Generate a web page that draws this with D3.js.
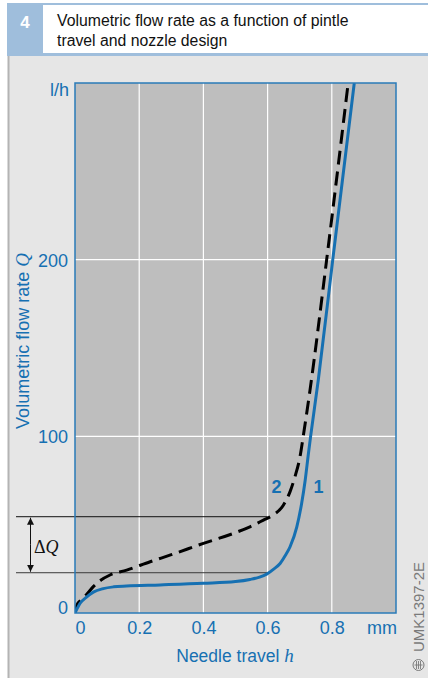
<!DOCTYPE html>
<html>
<head>
<meta charset="utf-8">
<script src="https://cdn.jsdelivr.net/npm/d3@7"></script>
<style>
  html, body { margin: 0; padding: 0; background: #ffffff; }
  svg { display: block; font-family: "Liberation Sans", Arial, Helvetica, sans-serif; }
</style>
</head>
<body>
<svg id="chart" width="428" height="678"></svg>
<script>
// Needle travel h (mm) and volumetric flow rate Q (l/h) for both nozzle designs
const travel1 = [0, 0.016, 0.036, 0.057, 0.088, 0.12, 0.16, 0.265, 0.4, 0.5, 0.545, 0.575, 0.597, 0.62, 0.639, 0.655, 0.67, 0.691, 0.706, 0.717, 0.727, 0.734, 0.758, 0.803, 0.87];
const flow1   = [0, 5.5, 9, 11.8, 13.8, 14.8, 15.3, 15.9, 16.8, 17.8, 19, 20.3, 22, 25, 28, 32.5, 37.5, 48.8, 62, 75, 90, 100, 132, 200, 300];

const travel2 = [0, 0.006, 0.02, 0.036, 0.057, 0.08, 0.109, 0.161, 0.234, 0.3, 0.4, 0.5, 0.545, 0.587, 0.618, 0.649, 0.67, 0.685, 0.701, 0.711, 0.732, 0.784, 0.851];
const flow2   = [0, 4.5, 7.5, 10.5, 14.9, 18.5, 21.5, 24.3, 29, 33, 39.4, 45.5, 48.8, 52.6, 55.5, 61, 68.7, 77, 88.5, 100, 126, 200, 300];

const xTicks = [0, 0.2, 0.4, 0.6, 0.8];
const xTickLabels = ["0", "0.2", "0.4", "0.6", "0.8"];
const yTicks = [0, 100, 200];
const yTickLabels = ["0", "100", "200"];

// Flow-rate band ΔQ marked at h = 0.6 mm
const deltaQ = [22.8, 54.5];
const deltaQTravel = 0.6;

const BLUE = "#1670b2";
const SANS = "'Liberation Sans', Arial, Helvetica, sans-serif";
const SERIF = "'Liberation Serif', 'Times New Roman', serif";
const svg = d3.select("#chart");
const W = 428, H = 678;

// ---- panel frame ----
svg.append("rect").attr("x", 8).attr("y", 56).attr("width", W - 8).attr("height", H - 56).attr("fill", "#e6e6e6");
svg.append("line").attr("x1", 8.5).attr("x2", 8.5).attr("y1", 56).attr("y2", H)
  .attr("stroke", "#b4b4b4").attr("stroke-width", 2);

// header band
svg.append("rect").attr("x", 7).attr("y", 3).attr("width", W - 7).attr("height", 53).attr("fill", "#9fbedc");
svg.append("rect").attr("x", 43).attr("y", 5).attr("width", W - 43).attr("height", 48).attr("fill", "#ffffff");
svg.append("text").attr("x", 25).attr("y", 28).attr("text-anchor", "middle")
  .attr("font-size", 17).attr("font-weight", "bold").attr("fill", "#ffffff").text("4");
svg.append("text").attr("x", 57).attr("y", 26).attr("font-size", 15.8).attr("fill", "#111")
  .text("Volumetric flow rate as a function of pintle");
svg.append("text").attr("x", 57).attr("y", 46).attr("font-size", 15.8).attr("fill", "#111")
  .text("travel and nozzle design");

// ---- scales ----
const x = d3.scaleLinear().domain([0, 1.0]).range([75, 396]);
const y = d3.scaleLinear().domain([0, 300]).range([613, 83]);

// plot area
svg.append("rect").attr("x", x(0)).attr("y", y(300)).attr("width", x(1) - x(0)).attr("height", y(0) - y(300))
  .attr("fill", "#bebebe");

// grid
svg.append("g").selectAll("line").data(xTicks.filter(d => d > 0)).join("line")
  .attr("x1", d => x(d)).attr("x2", d => x(d)).attr("y1", y(0)).attr("y2", y(300))
  .attr("stroke", "#ffffff").attr("stroke-width", 1.2);
svg.append("g").selectAll("line").data(yTicks.filter(d => d > 0)).join("line")
  .attr("x1", x(0)).attr("x2", x(1)).attr("y1", d => y(d)).attr("y2", d => y(d))
  .attr("stroke", "#ffffff").attr("stroke-width", 1.2);

// ΔQ reference lines
svg.append("g").selectAll("line").data(deltaQ).join("line")
  .attr("x1", 16).attr("x2", x(deltaQTravel)).attr("y1", d => y(d)).attr("y2", d => y(d))
  .attr("stroke", (d, i) => i === 0 ? "#3a3a3a" : "#111").attr("stroke-width", 1);

// ΔQ arrow
const defs = svg.append("defs");
defs.append("marker").attr("id", "ah").attr("viewBox", "0 0 10 10").attr("refX", 10).attr("refY", 5)
  .attr("markerWidth", 7).attr("markerHeight", 8).attr("markerUnits", "userSpaceOnUse").attr("orient", "auto")
  .append("path").attr("d", "M0,0 L10,5 L0,10 Z").attr("fill", "#111");
svg.append("line").attr("x1", 30.5).attr("x2", 30.5)
  .attr("y1", (y(deltaQ[0]) + y(deltaQ[1])) / 2).attr("y2", y(deltaQ[1]) + 1)
  .attr("stroke", "#111").attr("stroke-width", 1).attr("marker-end", "url(#ah)");
svg.append("line").attr("x1", 30.5).attr("x2", 30.5)
  .attr("y1", (y(deltaQ[0]) + y(deltaQ[1])) / 2).attr("y2", y(deltaQ[0]) - 1)
  .attr("stroke", "#111").attr("stroke-width", 1).attr("marker-end", "url(#ah)");
const dq = svg.append("text").attr("x", 34).attr("y", 553).attr("font-size", 18)
  .style("font-family", SERIF).attr("fill", "#111");
dq.append("tspan").text("Δ");
dq.append("tspan").attr("font-style", "italic").text("Q");

// ---- curves ----
const clip = defs.append("clipPath").attr("id", "plotclip");
clip.append("rect").attr("x", x(0)).attr("y", y(300)).attr("width", x(1) - x(0)).attr("height", y(0) - y(300));

const line = d3.line().x(d => x(d[0])).y(d => y(d[1])).curve(d3.curveMonotoneX);
const curve1 = travel1.map((h, i) => [h, flow1[i]]);
const curve2 = travel2.map((h, i) => [h, flow2[i]]);

const curves = svg.append("g").attr("clip-path", "url(#plotclip)");
curves.append("path").datum(curve2).attr("d", line).attr("fill", "none")
  .attr("stroke", "#000").attr("stroke-width", 3).attr("stroke-dasharray", "14 7");
curves.append("path").datum(curve1).attr("d", line).attr("fill", "none")
  .attr("stroke", BLUE).attr("stroke-width", 3);

// plot border
svg.append("rect").attr("x", x(0)).attr("y", y(300)).attr("width", x(1) - x(0)).attr("height", y(0) - y(300))
  .attr("fill", "none").attr("stroke", "#2a7bb8").attr("stroke-width", 1.5);

// curve labels
svg.append("text").attr("x", 276.5).attr("y", 493).attr("text-anchor", "middle")
  .attr("font-size", 18).attr("font-weight", "bold").attr("fill", BLUE).text("2");
svg.append("text").attr("x", 318.5).attr("y", 493).attr("text-anchor", "middle")
  .attr("font-size", 18).attr("font-weight", "bold").attr("fill", BLUE).text("1");

// ---- axes labels ----
const xAxis = d3.axisBottom(x).tickValues(xTicks).tickFormat((d, i) => xTickLabels[i]).tickSize(0).tickPadding(0);
const gx = svg.append("g").attr("transform", `translate(0,${y(0)})`).call(xAxis);
gx.select(".domain").remove();
gx.selectAll("text").attr("font-size", 18).attr("fill", BLUE).attr("dy", null).attr("y", 21)
  .style("font-family", SANS)
  .attr("text-anchor", d => d === 0 ? "start" : "middle");
svg.append("text").attr("x", 397).attr("y", y(0) + 21).attr("text-anchor", "end")
  .attr("font-size", 18).attr("fill", BLUE).text("mm");

const yAxis = d3.axisLeft(y).tickValues(yTicks).tickFormat((d, i) => yTickLabels[i]).tickSize(0).tickPadding(7);
const gy = svg.append("g").attr("transform", `translate(${x(0)},0)`).call(yAxis);
gy.select(".domain").remove();
gy.selectAll("text").attr("font-size", 18).attr("fill", BLUE)
  .style("font-family", SANS)
  .attr("dy", d => d === 0 ? "0em" : "0.36em");
svg.append("text").attr("x", 69).attr("y", y(300) + 13).attr("text-anchor", "end")
  .attr("font-size", 18).attr("fill", BLUE).text("l/h");

// axis titles
const xt = svg.append("text").attr("x", 235).attr("y", 662).attr("text-anchor", "middle")
  .attr("font-size", 17.5).attr("fill", BLUE);
xt.append("tspan").text("Needle travel ");
xt.append("tspan").style("font-family", SERIF).attr("font-style", "italic")
  .attr("font-size", 19).text("h");

const yt = svg.append("text").attr("transform", "translate(29,341) rotate(-90)").attr("text-anchor", "middle")
  .attr("font-size", 18).attr("fill", BLUE);
yt.append("tspan").text("Volumetric flow rate ");
yt.append("tspan").style("font-family", SERIF).attr("font-style", "italic")
  .attr("font-size", 19).text("Q");

// drawing reference code
svg.append("text").attr("transform", "translate(424,607) rotate(-90)").attr("text-anchor", "middle")
  .attr("font-size", 15).attr("fill", "#7a7a7a").text("UMK1397-2E");
const mark = svg.append("g").attr("transform", "translate(418.5,665)");
mark.append("circle").attr("r", 5.5).attr("fill", "none").attr("stroke", "#7a7a7a").attr("stroke-width", 1);
[-2, 0, 2].forEach(o => mark.append("line").attr("x1", o).attr("x2", o).attr("y1", -4).attr("y2", 4)
  .attr("stroke", "#7a7a7a").attr("stroke-width", 0.9));
mark.append("line").attr("x1", -4).attr("x2", 4).attr("y1", 0).attr("y2", 0)
  .attr("stroke", "#7a7a7a").attr("stroke-width", 0.9);
</script>
</body>
</html>
